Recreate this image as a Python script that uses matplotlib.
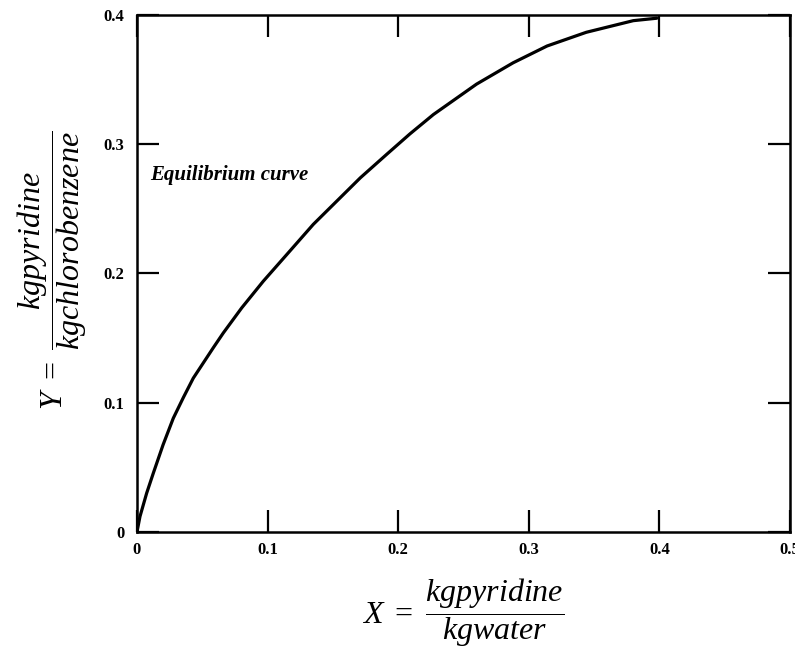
import matplotlib.pyplot as plt
from matplotlib.ticker import FixedLocator, FixedFormatter

# equilibrium curve
x_eq = [0, 0.0023, 0.0074, 0.0125, 0.020, 0.0278, 0.0355, 0.0431, 0.0584,
        0.0661, 0.0802, 0.0967, 0.117, 0.135, 0.154, 0.171, 0.191, 0.209,
        0.227, 0.260, 0.288, 0.314, 0.344, 0.380, 0.398]
y_eq = [0, 0.012, 0.030, 0.0455, 0.0675, 0.088, 0.104, 0.119, 0.1425,
        0.154, 0.1734, 0.194, 0.2173, 0.238, 0.257, 0.274, 0.292, 0.308,
        0.323, 0.3465, 0.363, 0.376, 0.3866, 0.3956, 0.3975]

x_ticks = [0, 0.1, 0.2, 0.3, 0.4, 0.5]
x_tick_labels = ['0', '0.1', '0.2', '0.3', '0.4', '0.5']
y_ticks = [0, 0.1, 0.2, 0.3, 0.4]
y_tick_labels = ['0', '0.1', '0.2', '0.3', '0.4']

plt.rcParams['mathtext.fontset'] = 'custom'
plt.rcParams['mathtext.rm'] = 'Liberation Serif'
plt.rcParams['mathtext.it'] = 'Liberation Serif:italic'

fig = plt.figure(figsize=(7.95, 6.57), dpi=100)
ax = fig.add_axes([0.1723, 0.1903, 0.8214, 0.7869])

ax.plot(x_eq, y_eq, color='black', linewidth=2.3, solid_capstyle='round',
        solid_joinstyle='round')

ax.set_xlim(0, 0.5)
ax.set_ylim(0, 0.4)
ax.xaxis.set_major_locator(FixedLocator(x_ticks))
ax.xaxis.set_major_formatter(FixedFormatter(x_tick_labels))
ax.yaxis.set_major_locator(FixedLocator(y_ticks))
ax.yaxis.set_major_formatter(FixedFormatter(y_tick_labels))
ax.tick_params(direction='in', length=16, width=1.6, top=True, right=True,
               labelsize=12)
ax.tick_params(axis='y', pad=9)
ax.tick_params(axis='x', pad=7)
for lab in ax.get_xticklabels() + ax.get_yticklabels():
    lab.set_family('Liberation Serif')
    lab.set_fontweight('bold')

for side in ['left', 'right', 'top', 'bottom']:
    ax.spines[side].set_linewidth(1.8)

ax.text(0.010, 0.276, 'Equilibrium curve', fontsize=15, family='Liberation Serif',
        style='italic', fontweight='bold', va='center', ha='left')

fig.text(0.582, 0.067, r'$X\ =\ \dfrac{kgpyridine}{kgwater}$',
         fontsize=23, ha='center', va='center')
fig.text(0.066, 0.589, r'$Y\ =\ \dfrac{kgpyridine}{kgchlorobenzene}$',
         fontsize=23, ha='center', va='center', rotation=90)

fig.savefig('out.png', dpi=100)
